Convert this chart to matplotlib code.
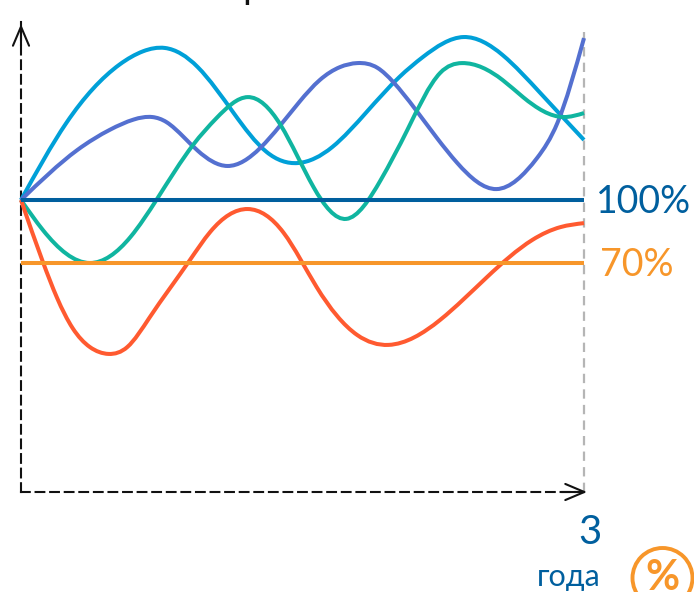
import numpy as np
import matplotlib
matplotlib.use('Agg')
import matplotlib.pyplot as plt
from matplotlib.path import Path
from matplotlib.patches import PathPatch, Ellipse

# months since start, percent of the deposit
blue_x = [0, 2.9, 6.3, 7.8, 9.2, 11.3, 13.6, 15.7, 17.7, 19.9, 22.1, 24.2, 25.7, 28.3, 30.8, 33.2, 36]
blue_y = [100, 136.7, 164.5, 170.8, 172.4, 163.3, 141.4, 122.9, 117.6, 125.2, 141.9, 158.6, 168.1, 177.6, 169, 151,
          128.6]

violet_x = [0, 3.6, 5.7, 7.2, 8.4, 9.3, 10.4, 11.3, 13.2, 15.3, 17.8, 19.1, 20.4, 21.5, 22.8, 23.8, 26.6, 27.9, 30.4,
            33.0, 34.3, 36]
violet_y = [100, 123.8, 133.5, 138.3, 139.5, 137.1, 130, 123.5, 116.2, 124.8, 146.7, 157.1, 163.3, 165.2, 162.9,
            156.2, 129.5, 117.6, 105.2, 120, 136.7, 177.1]

teal_x = [0, 1.4, 4.4, 7.0, 8.7, 11.0, 12.5, 14.5, 16.6, 18.7, 20.8, 23.0, 24.7, 26.8, 28.2, 30.8, 32.1, 34.7, 36]
teal_y = [100, 85.7, 70, 82.4, 100.5, 126.2, 139, 149, 135.7, 106.2, 91, 109.5, 133.3, 160.5, 165.2, 157.1, 149,
          139.5, 141.4]

red_x = [0, 1.4, 2.3, 3.3, 4.4, 5.6, 6.8, 8.2, 10.8, 12.1, 14.5, 16.8, 18.9, 21.5, 23.5, 26.8, 29.8, 32.7, 34.5, 36]
red_y = [100, 70.5, 53.5, 39, 30, 26.7, 30, 43.8, 71.4, 84.8, 95.7, 84.3, 58.6, 35.7, 31, 42.9, 63.3, 81, 87.1, 89]

level_x = [0, 36]
full_level = [100, 100]
part_level = [70, 70]

NAVY = '#005F9E'
ORANGE = '#F7962A'


def smooth_line(ax, xs, ys, color):
    # cubic spline through the points, drawn as bezier segments
    x = np.array(xs, dtype=float)
    y = np.array(ys, dtype=float)
    n = len(x)
    h = np.diff(x)
    d = np.diff(y) / h
    A = np.zeros((n, n))
    b = np.zeros(n)
    A[0, 0], A[0, 1], b[0] = 2, 1, 3 * d[0]
    A[-1, -1], A[-1, -2], b[-1] = 2, 1, 3 * d[-1]
    for i in range(1, n - 1):
        A[i, i - 1] = h[i]
        A[i, i] = 2 * (h[i - 1] + h[i])
        A[i, i + 1] = h[i - 1]
        b[i] = 3 * (h[i] * d[i - 1] + h[i - 1] * d[i])
    m = np.linalg.solve(A, b)
    verts = [(x[0], y[0])]
    codes = [Path.MOVETO]
    for i in range(n - 1):
        verts += [(x[i] + h[i] / 3, y[i] + m[i] * h[i] / 3),
                  (x[i + 1] - h[i] / 3, y[i + 1] - m[i + 1] * h[i] / 3),
                  (x[i + 1], y[i + 1])]
        codes += [Path.CURVE4] * 3
    ax.add_patch(PathPatch(Path(verts, codes), fill=False, edgecolor=color, linewidth=2.9, clip_on=False, zorder=3))


fig = plt.figure(figsize=(6.94, 5.92), dpi=100)
ax = fig.add_axes([21 / 694, 1 - 492 / 592, 563 / 694, 470 / 592])
ax.set_xlim(0, 36)
ax.set_ylim(100 - 292 / 2.1, 100 + 178 / 2.1)
ax.set_xticks([])
ax.set_yticks([])
ax.patch.set_alpha(0)
for side in ('top', 'right'):
    ax.spines[side].set_visible(False)
for side in ('left', 'bottom'):
    ax.spines[side].set_linewidth(1.5)
    ax.spines[side].set_linestyle((0, (4.2, 2.8)))
    ax.spines[side].set_color('#111111')

ax.plot([36, 36], [ax.get_ylim()[0], 180], color='#B5B5B5', linewidth=1.6, linestyle=(0, (4.2, 2.8)), zorder=1,
        clip_on=False)

head = '->,head_length=1.37,head_width=0.58'
ax.annotate('', xy=(0, 0.9957), xytext=(0, 0.95), xycoords='axes fraction',
            arrowprops=dict(arrowstyle=head, color='#111111', lw=1.5, shrinkA=0, shrinkB=0), annotation_clip=False)
ax.annotate('', xy=(1.0053, 0), xytext=(0.96, 0), xycoords='axes fraction',
            arrowprops=dict(arrowstyle=head, color='#111111', lw=1.5, shrinkA=0, shrinkB=0), annotation_clip=False)

smooth_line(ax, blue_x, blue_y, '#00A0D8')
smooth_line(ax, violet_x, violet_y, '#5470D0')
smooth_line(ax, teal_x, teal_y, '#10B5A0')
smooth_line(ax, red_x, red_y, '#FF5A30')
ax.plot(level_x, full_level, color=NAVY, linewidth=2.9, solid_capstyle='butt', zorder=4, clip_on=False)
ax.plot(level_x, part_level, color=ORANGE, linewidth=2.9, solid_capstyle='butt', zorder=4, clip_on=False)

font = 'Lato'
fig.text(596 / 694, 1 - 202 / 592, '100%', color=NAVY, fontsize=27, family=font, va='center', ha='left')
fig.text(600 / 694, 1 - 265 / 592, '70%', color=ORANGE, fontsize=27, family=font, va='center', ha='left')
fig.text(590 / 694, 1 - 533 / 592, '3', color=NAVY, fontsize=29, family=font, va='center', ha='center')
fig.text(569 / 694, 1 - 577 / 592, 'года', color=NAVY, fontsize=22, family=font, va='center', ha='center')
fig.text(251 / 694, 1 - (-8) / 592, 'р', color='#111111', fontsize=20, family=font, weight='bold', va='center',
         ha='center')

fig.add_artist(Ellipse((662.5 / 694, 1 - 578 / 592), 60 / 694, 60 / 592, transform=fig.transFigure, fill=False,
                       edgecolor=ORANGE, linewidth=2.8))
fig.text(662 / 694, 1 - 578 / 592, '%', color=ORANGE, fontsize=30, family=font, weight='bold', va='center',
         ha='center')

fig.savefig('out.png', dpi=100)
